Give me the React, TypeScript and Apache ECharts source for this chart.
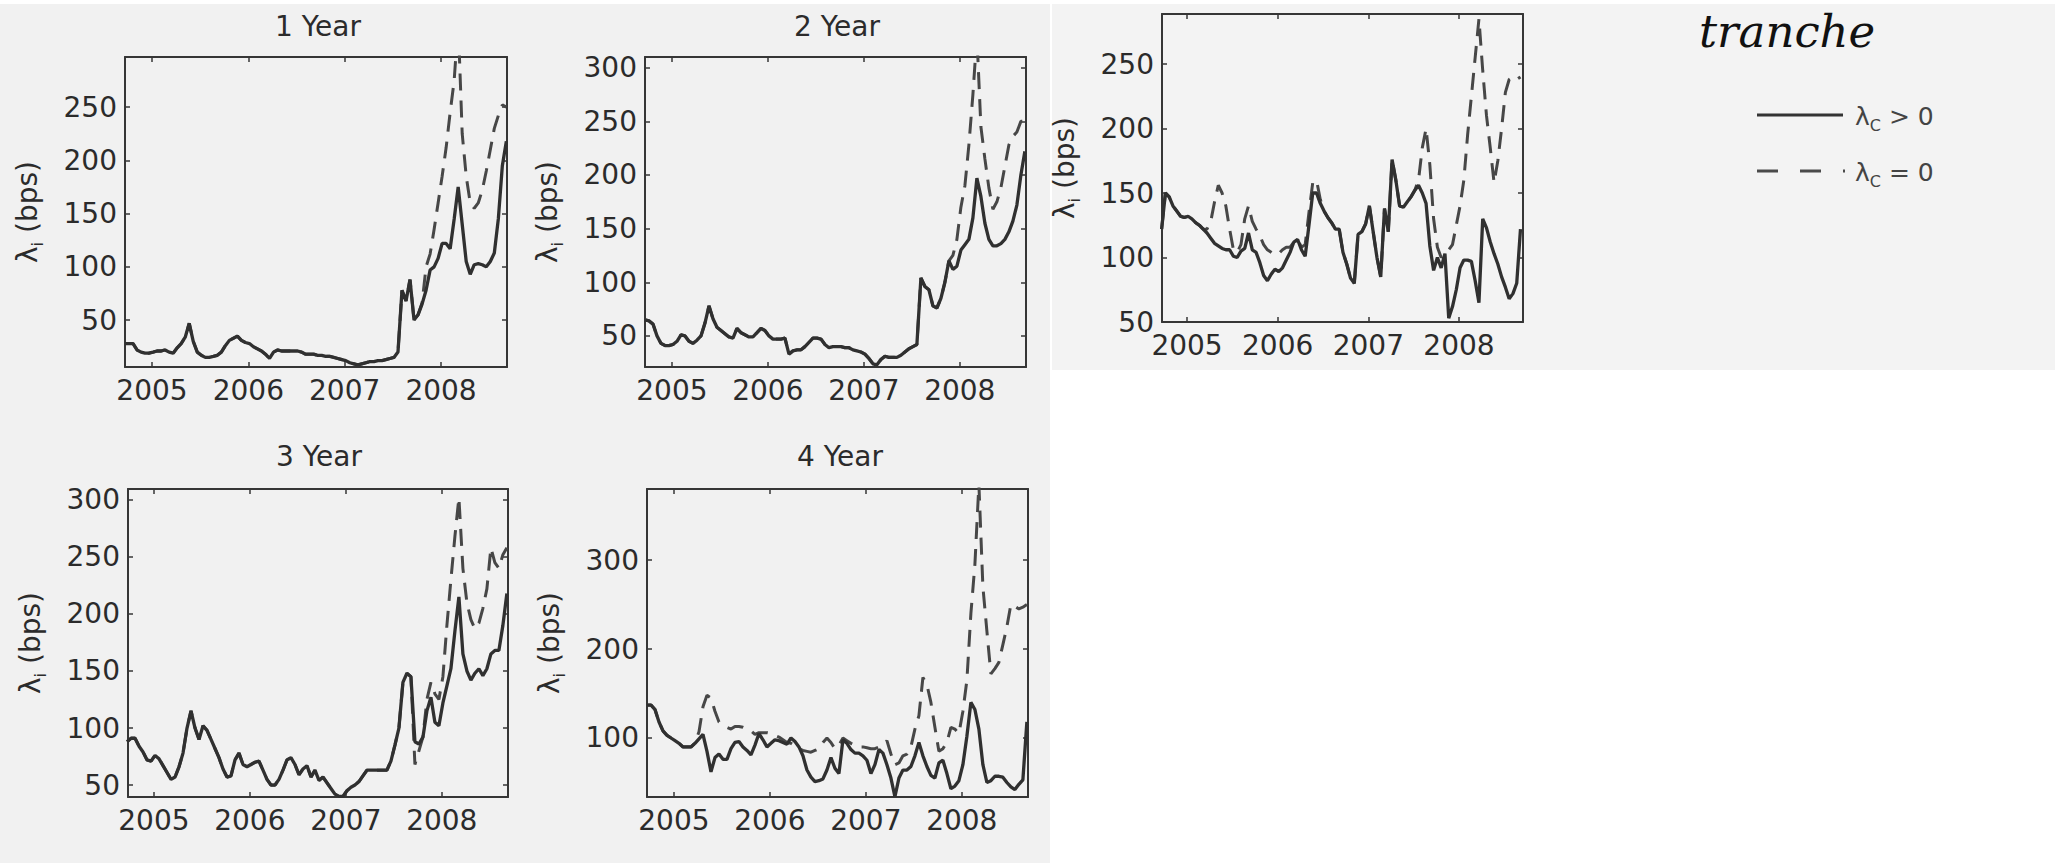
import React, { useEffect, useRef } from "react";
import * as echarts from "echarts";

// semi-monthly observation dates (decimal years)
const dates: number[] = Array.from({ length: 96 }, (_, i) => +(2004.72 + i / 24).toFixed(4));
const yearTicks = [2005, 2006, 2007, 2008];

const p1Ticks = [50, 100, 150, 200, 250];
const p2Ticks = [50, 100, 150, 200, 250, 300];
const p3Ticks = [50, 100, 150, 200, 250, 300];
const p4Ticks = [100, 200, 300];
const p5Ticks = [50, 100, 150, 200, 250];

// 1 Year
const p1Solid = [
  28, 28, 28, 22, 20, 19, 19, 20, 21, 21,
  22, 20, 19, 24, 28, 34, 47, 30, 20, 17,
  15, 15, 16, 17, 20, 26, 31, 33, 35, 31,
  29, 28, 25, 23, 21, 18, 14, 20, 22, 21,
  21, 21, 21, 21, 20, 18, 18, 18, 17, 17,
  16, 16, 15, 14, 13, 12, 10, 9, 8, 9,
  10, 11, 11, 12, 12, 13, 14, 15, 20, 78,
  68, 88, 50, 55, 65, 78, 97, 100, 108, 122,
  122, 117, 145, 175, 140, 105, 93, 102, 103, 102,
  100, 105, 113, 145, 195, 218,
];
const p1Dashed = [
  28, 28, 28, 22, 20, 19, 19, 20, 21, 21,
  22, 20, 19, 24, 28, 34, 47, 30, 20, 17,
  15, 15, 16, 17, 20, 26, 31, 33, 35, 31,
  29, 28, 25, 23, 21, 18, 14, 20, 22, 21,
  21, 21, 21, 21, 20, 18, 18, 18, 17, 17,
  16, 16, 15, 14, 13, 12, 10, 9, 8, 9,
  10, 11, 11, 12, 12, 13, 14, 15, 20, 78,
  68, 88, 50, 55, 66, 100, 112, 135, 160, 185,
  212, 245, 275, 330, 225, 185, 160, 155, 160, 172,
  190, 210, 230, 242, 252, 250,
];

// 2 Year
const p2Solid = [
  65, 64, 61, 50, 43, 41, 41, 42, 45, 51,
  50, 45, 43, 46, 50, 62, 78, 66, 58, 55,
  52, 49, 48, 57, 53, 51, 49, 49, 53, 57,
  55, 50, 47, 47, 47, 48, 33, 36, 37, 37,
  40, 44, 48, 48, 47, 42, 39, 40, 40, 40,
  39, 39, 37, 36, 35, 33, 29, 24, 23, 28,
  31, 30, 30, 30, 32, 35, 38, 40, 42, 104,
  96, 93, 78, 76, 85, 100, 120, 112, 115, 130,
  135, 140, 160, 197, 180, 155, 140, 134, 134, 136,
  140, 147, 157, 172, 200, 222,
];
const p2Dashed = [
  65, 64, 61, 50, 43, 41, 41, 42, 45, 51,
  50, 45, 43, 46, 50, 62, 78, 66, 58, 55,
  52, 49, 48, 57, 53, 51, 49, 49, 53, 57,
  55, 50, 47, 47, 47, 48, 33, 36, 37, 37,
  40, 44, 48, 48, 47, 42, 39, 40, 40, 40,
  39, 39, 37, 36, 35, 33, 29, 24, 23, 28,
  31, 30, 30, 30, 32, 35, 38, 40, 42, 104,
  96, 93, 78, 76, 85, 100, 120, 125, 140, 170,
  190, 228, 275, 330, 245, 215, 188, 168, 175, 188,
  208, 228, 236, 240, 250, 250,
];

// 3 Year
const p3Solid = [
  88, 91, 91, 84, 79, 72, 71, 76, 73, 67,
  61, 55, 57, 66, 78, 100, 115, 100, 90, 102,
  98, 90, 82, 74, 64, 57, 58, 72, 78, 68,
  66, 68, 70, 71, 63, 55, 50, 50, 55, 63,
  72, 74, 68, 59, 64, 67, 57, 63, 54, 57,
  52, 47, 42, 40, 40, 45, 48, 50, 53, 58,
  63, 63, 63, 63, 63, 63, 71, 85, 100, 140,
  148, 145, 88, 86, 92, 115, 127, 105, 102, 122,
  137, 152, 185, 215, 165, 150, 142, 148, 152, 146,
  152, 165, 168, 168, 190, 218,
];
const p3Dashed = [
  88, 91, 91, 84, 79, 72, 71, 76, 73, 67,
  61, 55, 57, 66, 78, 100, 115, 100, 90, 102,
  98, 90, 82, 74, 64, 57, 58, 72, 78, 68,
  66, 68, 70, 71, 63, 55, 50, 50, 55, 63,
  72, 74, 68, 59, 64, 67, 57, 63, 54, 57,
  52, 47, 42, 40, 40, 45, 48, 50, 53, 58,
  63, 63, 63, 63, 63, 63, 71, 85, 100, 140,
  148, 145, 68, 80, 92, 125, 140, 130, 125, 145,
  190, 230, 268, 302, 240, 210, 195, 187, 192, 205,
  222, 258, 245, 240, 252, 258,
];

// 4 Year
const p4Solid = [
  137, 137, 132, 118, 108, 103, 100, 97, 94, 90,
  90, 90, 94, 99, 104, 85, 62, 78, 82, 76,
  76, 88, 95, 96, 90, 86, 81, 92, 105, 98,
  90, 94, 98, 97, 95, 93, 100, 96, 90, 80,
  64, 56, 51, 52, 54, 64, 78, 66, 60, 98,
  94, 87, 83, 83, 80, 75, 60, 70, 87, 83,
  70, 55, 34, 55, 64, 64, 68, 80, 95, 80,
  68, 58, 55, 72, 75, 60, 43, 46, 52, 70,
  102, 140, 132, 110, 70, 50, 52, 57, 57, 56,
  50, 45, 42, 48, 53, 118,
];
const p4Dashed = [
  137, 137, 132, 118, 108, 103, 100, 97, 94, 90,
  90, 90, 94, 107, 135, 148, 145, 130, 118, 115,
  112, 110, 113, 113, 112, 110, 108, 104, 106, 106,
  106, 105, 103, 101, 98, 95, 94, 91, 88, 86,
  85, 84, 86, 88, 95, 100, 95, 88, 92, 100,
  97, 94, 92, 90, 90, 89, 88, 88, 90, 92,
  97, 82, 70, 72, 80, 82, 90, 110, 125, 168,
  160, 140, 112, 85, 88, 95, 112, 110, 105, 130,
  165, 240, 295, 385, 270, 220, 172, 178, 185, 205,
  225, 250, 248, 245, 247, 250,
];

// tranche
const p5Solid = [
  122, 150, 147, 140, 136, 132, 131, 132, 130, 127,
  125, 122, 119, 115, 111, 109, 107, 106, 106, 101,
  100, 105, 107, 119, 106, 104, 96, 86, 82, 87,
  91, 89, 92, 98, 104, 112, 114, 106, 101, 125,
  150, 150, 142, 136, 131, 127, 122, 122, 104, 95,
  84, 80, 118, 120, 126, 140, 120, 100, 85, 138,
  120, 176, 160, 140, 139, 143, 147, 152, 156, 150,
  142, 109, 90, 100, 92, 103, 53, 62, 75, 92,
  98, 98, 97, 82, 65, 130, 123, 112, 103, 95,
  85, 77, 68, 72, 80, 122,
];
const p5Dashed = [
  122, 150, 147, 140, 136, 132, 131, 132, 130, 127,
  125, 122, 122, 128, 143, 156, 150, 140, 122, 106,
  104, 110, 130, 140, 128, 122, 117, 110, 106, 104,
  102, 103, 106, 108, 108, 112, 114, 108, 110, 135,
  158, 160, 145, 136, 131, 127, 122, 122, 104, 95,
  84, 80, 118, 120, 126, 140, 120, 100, 85, 138,
  120, 176, 160, 140, 139, 143, 147, 152, 160, 185,
  200, 172, 130, 108, 100, 104, 106, 110, 125, 140,
  160, 195, 225, 255, 285, 245, 210, 185, 158, 175,
  200, 228, 238, 240, 238, 240,
];

const FONT = "DejaVu Sans";
const INK = "#2b2b2b";
const AXIS = "#363636";
const FS = 28;

const panels = [
  { title: "1 Year", left: 125, top: 57, width: 382, height: 310, xMin: 2004.72, xMax: 2008.685, yMin: 6, yMax: 297, ticks: p1Ticks, solid: p1Solid, dashed: p1Dashed, tx: 318, ty: 26 },
  { title: "2 Year", left: 645, top: 57, width: 381, height: 310, xMin: 2004.72, xMax: 2008.69, yMin: 21, yMax: 310, ticks: p2Ticks, solid: p2Solid, dashed: p2Dashed, tx: 837, ty: 26 },
  { title: "3 Year", left: 128, top: 489, width: 380, height: 308, xMin: 2004.73, xMax: 2008.69, yMin: 39.5, yMax: 309.6, ticks: p3Ticks, solid: p3Solid, dashed: p3Dashed, tx: 319, ty: 456 },
  { title: "4 Year", left: 647, top: 489, width: 381, height: 308, xMin: 2004.72, xMax: 2008.69, yMin: 33.7, yMax: 379.8, ticks: p4Ticks, solid: p4Solid, dashed: p4Dashed, tx: 840, ty: 456 },
  { title: "", left: 1162, top: 14, width: 361, height: 308, xMin: 2004.724, xMax: 2008.706, yMin: 50, yMax: 288.8, ticks: p5Ticks, solid: p5Solid, dashed: p5Dashed, tx: 0, ty: 0 },
];

const richMain = { fontFamily: FONT, fontSize: FS, color: INK, lineHeight: 36 };
const richSub = { fontFamily: FONT, fontSize: 16, color: INK, lineHeight: 36, verticalAlign: "bottom" as const };

export default function App() {
  const ref = useRef<HTMLDivElement>(null);
  useEffect(() => {
    if (!ref.current) return;
    const chart = echarts.init(ref.current, undefined, { renderer: "svg" });
    const grid: any[] = [];
    const xAxis: any[] = [];
    const yAxis: any[] = [];
    const series: any[] = [];
    const lineAxis = { show: true, onZero: false, lineStyle: { color: AXIS, width: 2 } };
    panels.forEach((p, k) => {
      grid.push({ left: p.left, top: p.top, width: p.width, height: p.height, containLabel: false });
      const xBase = {
        type: "value", gridIndex: k, min: p.xMin, max: p.xMax,
        axisLine: lineAxis, splitLine: { show: false },
        axisTick: { show: true, inside: true, length: 5, customValues: yearTicks, lineStyle: { color: AXIS, width: 1.5 } },
      };
      xAxis.push({
        ...xBase, position: "bottom",
        axisLabel: { show: true, customValues: yearTicks, formatter: (v: number) => String(Math.round(v)), fontFamily: FONT, fontSize: FS, color: INK, margin: 9 },
      });
      xAxis.push({ ...xBase, position: "top", axisLabel: { show: false } });
      const yBase = {
        type: "value", gridIndex: k, min: p.yMin, max: p.yMax,
        axisLine: lineAxis, splitLine: { show: false },
        axisTick: { show: true, inside: true, length: 5, customValues: p.ticks, lineStyle: { color: AXIS, width: 1.5 } },
      };
      yAxis.push({
        ...yBase, position: "left",
        axisLabel: { show: true, customValues: p.ticks, fontFamily: FONT, fontSize: FS, color: INK, margin: 8 },
        name: "{a|λ}{b|i}{a| (bps)}",
        nameLocation: "middle",
        nameGap: 80,
        nameTextStyle: { rich: { a: richMain, b: richSub } },
      });
      yAxis.push({ ...yBase, position: "right", axisLabel: { show: false } });
      const dashedData = dates.map((d, i) => [d, p.dashed[i]]);
      const solidData = dates.map((d, i) => [d, p.solid[i]]);
      series.push({
        type: "line", name: "λC = 0", xAxisIndex: 2 * k, yAxisIndex: 2 * k, data: dashedData,
        showSymbol: false, symbol: "none", z: 2, clip: true,
        lineStyle: { color: "#474747", width: 3, type: [17, 10] },
      });
      series.push({
        type: "line", name: "λC > 0", xAxisIndex: 2 * k, yAxisIndex: 2 * k, data: solidData,
        showSymbol: false, symbol: "none", z: 3, clip: true,
        lineStyle: { color: "#303030", width: 3.3 },
      });
    });

    const graphic: any[] = [
      { type: "rect", z: -100, silent: true, shape: { x: 0, y: 4, width: 1050, height: 859 }, style: { fill: "#f1f1f1" } },
      { type: "rect", z: -100, silent: true, shape: { x: 1052, y: 4, width: 1003, height: 366 }, style: { fill: "#f3f3f3" } },
    ];
    panels.forEach((p) => {
      if (!p.title) return;
      graphic.push({
        type: "text", x: p.tx, y: p.ty, z: 10,
        style: { text: p.title, fontFamily: FONT, fontSize: FS, fill: INK, align: "center", verticalAlign: "middle" },
      });
    });
    graphic.push({
      type: "text", x: 1699, y: 31, z: 10,
      style: { text: "tranche", fontFamily: "DejaVu Serif", fontStyle: "italic", fontSize: 45, fill: "#111", align: "left", verticalAlign: "middle" },
    });
    graphic.push({ type: "line", z: 10, shape: { x1: 1757, y1: 115, x2: 1843, y2: 115 }, style: { stroke: "#333", lineWidth: 3 } });
    graphic.push({ type: "line", z: 10, shape: { x1: 1757, y1: 171, x2: 1845, y2: 171 }, style: { stroke: "#4a4a4a", lineWidth: 3, lineDash: [21, 22] } });
    const legRich = {
      a: { fontFamily: FONT, fontSize: 25, fill: "#444", lineHeight: 34 },
      b: { fontFamily: FONT, fontSize: 16, fill: "#444", lineHeight: 34, verticalAlign: "bottom" },
    };
    graphic.push({ type: "text", x: 1855, y: 116, z: 10, style: { text: "{a|λ}{b|C}{a| > 0}", rich: legRich, align: "left", verticalAlign: "middle" } });
    graphic.push({ type: "text", x: 1855, y: 172, z: 10, style: { text: "{a|λ}{b|C}{a| = 0}", rich: legRich, align: "left", verticalAlign: "middle" } });

    chart.setOption({
      animation: false,
      backgroundColor: "#ffffff",
      grid, xAxis, yAxis, series, graphic,
    });
    return () => chart.dispose();
  }, []);
  return <div ref={ref} style={{ position: "absolute", left: 0, top: 0, width: 2055, height: 865 }} />;
}
